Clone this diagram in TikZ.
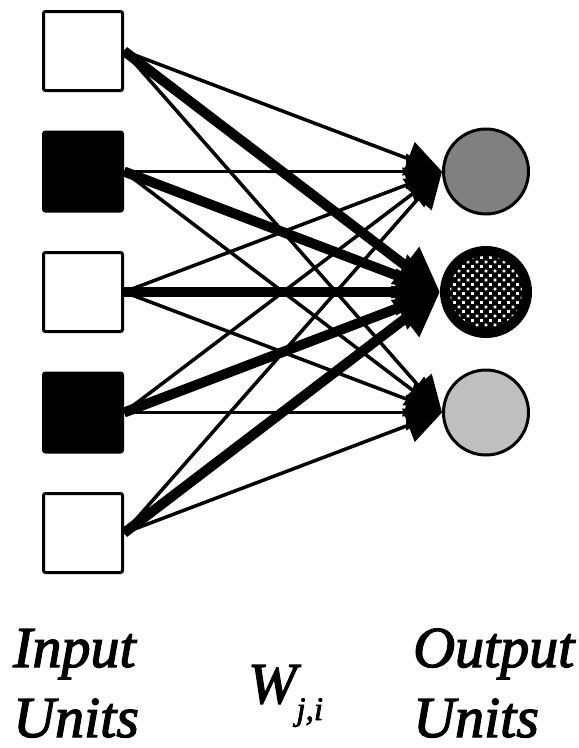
\documentclass[tikz,border=0pt]{standalone}
\usepackage{fontspec}
\setmainfont{Liberation Serif}
\usetikzlibrary{shapes.geometric, arrows.meta, patterns}
\pgfdeclarepatternformonly{meshdots}{\pgfqpoint{-2pt}{-2pt}}{\pgfqpoint{8pt}{8pt}}{\pgfqpoint{9pt}{9pt}}{%
  \pgfpathrectangle{\pgfqpoint{-1.3pt}{-1.3pt}}{\pgfqpoint{2.6pt}{2.6pt}}%
  \pgfpathrectangle{\pgfqpoint{3.2pt}{3.2pt}}{\pgfqpoint{2.6pt}{2.6pt}}%
  \pgfusepath{fill}}
\tikzstyle{inunit} = [rectangle, rounded corners=2pt, minimum size=79pt, inner sep=0pt, line width=3pt, draw=black, fill=white]
\tikzstyle{outunit} = [circle, minimum size=85pt, inner sep=0pt, line width=3pt, draw=black]
\tikzstyle{weak} = [line width=3.5pt, -{Triangle[length=36pt, width=35pt]}]
\tikzstyle{strong} = [line width=10pt, -{Triangle[length=44pt, width=44pt]}]
\tikzstyle{caption} = [inner sep=0pt, align=left, font=\fontsize{58}{70}\selectfont\itshape\addfontfeature{FakeBold=2.2}]

\begin{document}
\begin{tikzpicture}[x=1pt, y=-1pt, node distance=120.5pt]
      \useasboundingbox (0,0) rectangle (579,748);

      \node (in1) [inunit] at (83,51) {};
      \node (in2) [inunit, fill=black, below of=in1] {};
      \node (in3) [inunit, below of=in2] {};
      \node (in4) [inunit, fill=black, below of=in3] {};
      \node (in5) [inunit, below of=in4] {};

      \node (out1) [outunit, fill=gray, right of=in2, xshift=282.5pt] {};
      \node (out2) [outunit, minimum size=82pt, line width=10pt, pattern=meshdots, pattern color=white, preaction={fill=black}, right of=in3, xshift=282.5pt] {};
      \node (out3) [outunit, fill=lightgray, right of=in4, xshift=282.5pt] {};

      \draw [weak] (in1.east) -- (out1.west);
      \draw [strong] (in1.east) -- (out2.west);
      \draw [weak] (in1.east) -- (out3.west);
      \draw [weak] (in2.east) -- (out1.west);
      \draw [strong] (in2.east) -- (out2.west);
      \draw [weak] (in2.east) -- (out3.west);
      \draw [weak] (in3.east) -- (out1.west);
      \draw [strong] (in3.east) -- (out2.west);
      \draw [weak] (in3.east) -- (out3.west);
      \draw [weak] (in4.east) -- (out1.west);
      \draw [strong] (in4.east) -- (out2.west);
      \draw [weak] (in4.east) -- (out3.west);
      \draw [weak] (in5.east) -- (out1.west);
      \draw [strong] (in5.east) -- (out2.west);
      \draw [weak] (in5.east) -- (out3.west);

      \node (inputs) [caption, text depth=0pt, anchor=base west] at (13,737) {Input\\Units};
      \node (weights) [caption, anchor=base west] at (248,703) {W\raisebox{-17pt}{\fontsize{33}{33}\selectfont j,i}};
      \node (outputs) [caption, text depth=0pt, anchor=base west] at (413,737) {Output\\Units};
    \end{tikzpicture}
\end{document}
